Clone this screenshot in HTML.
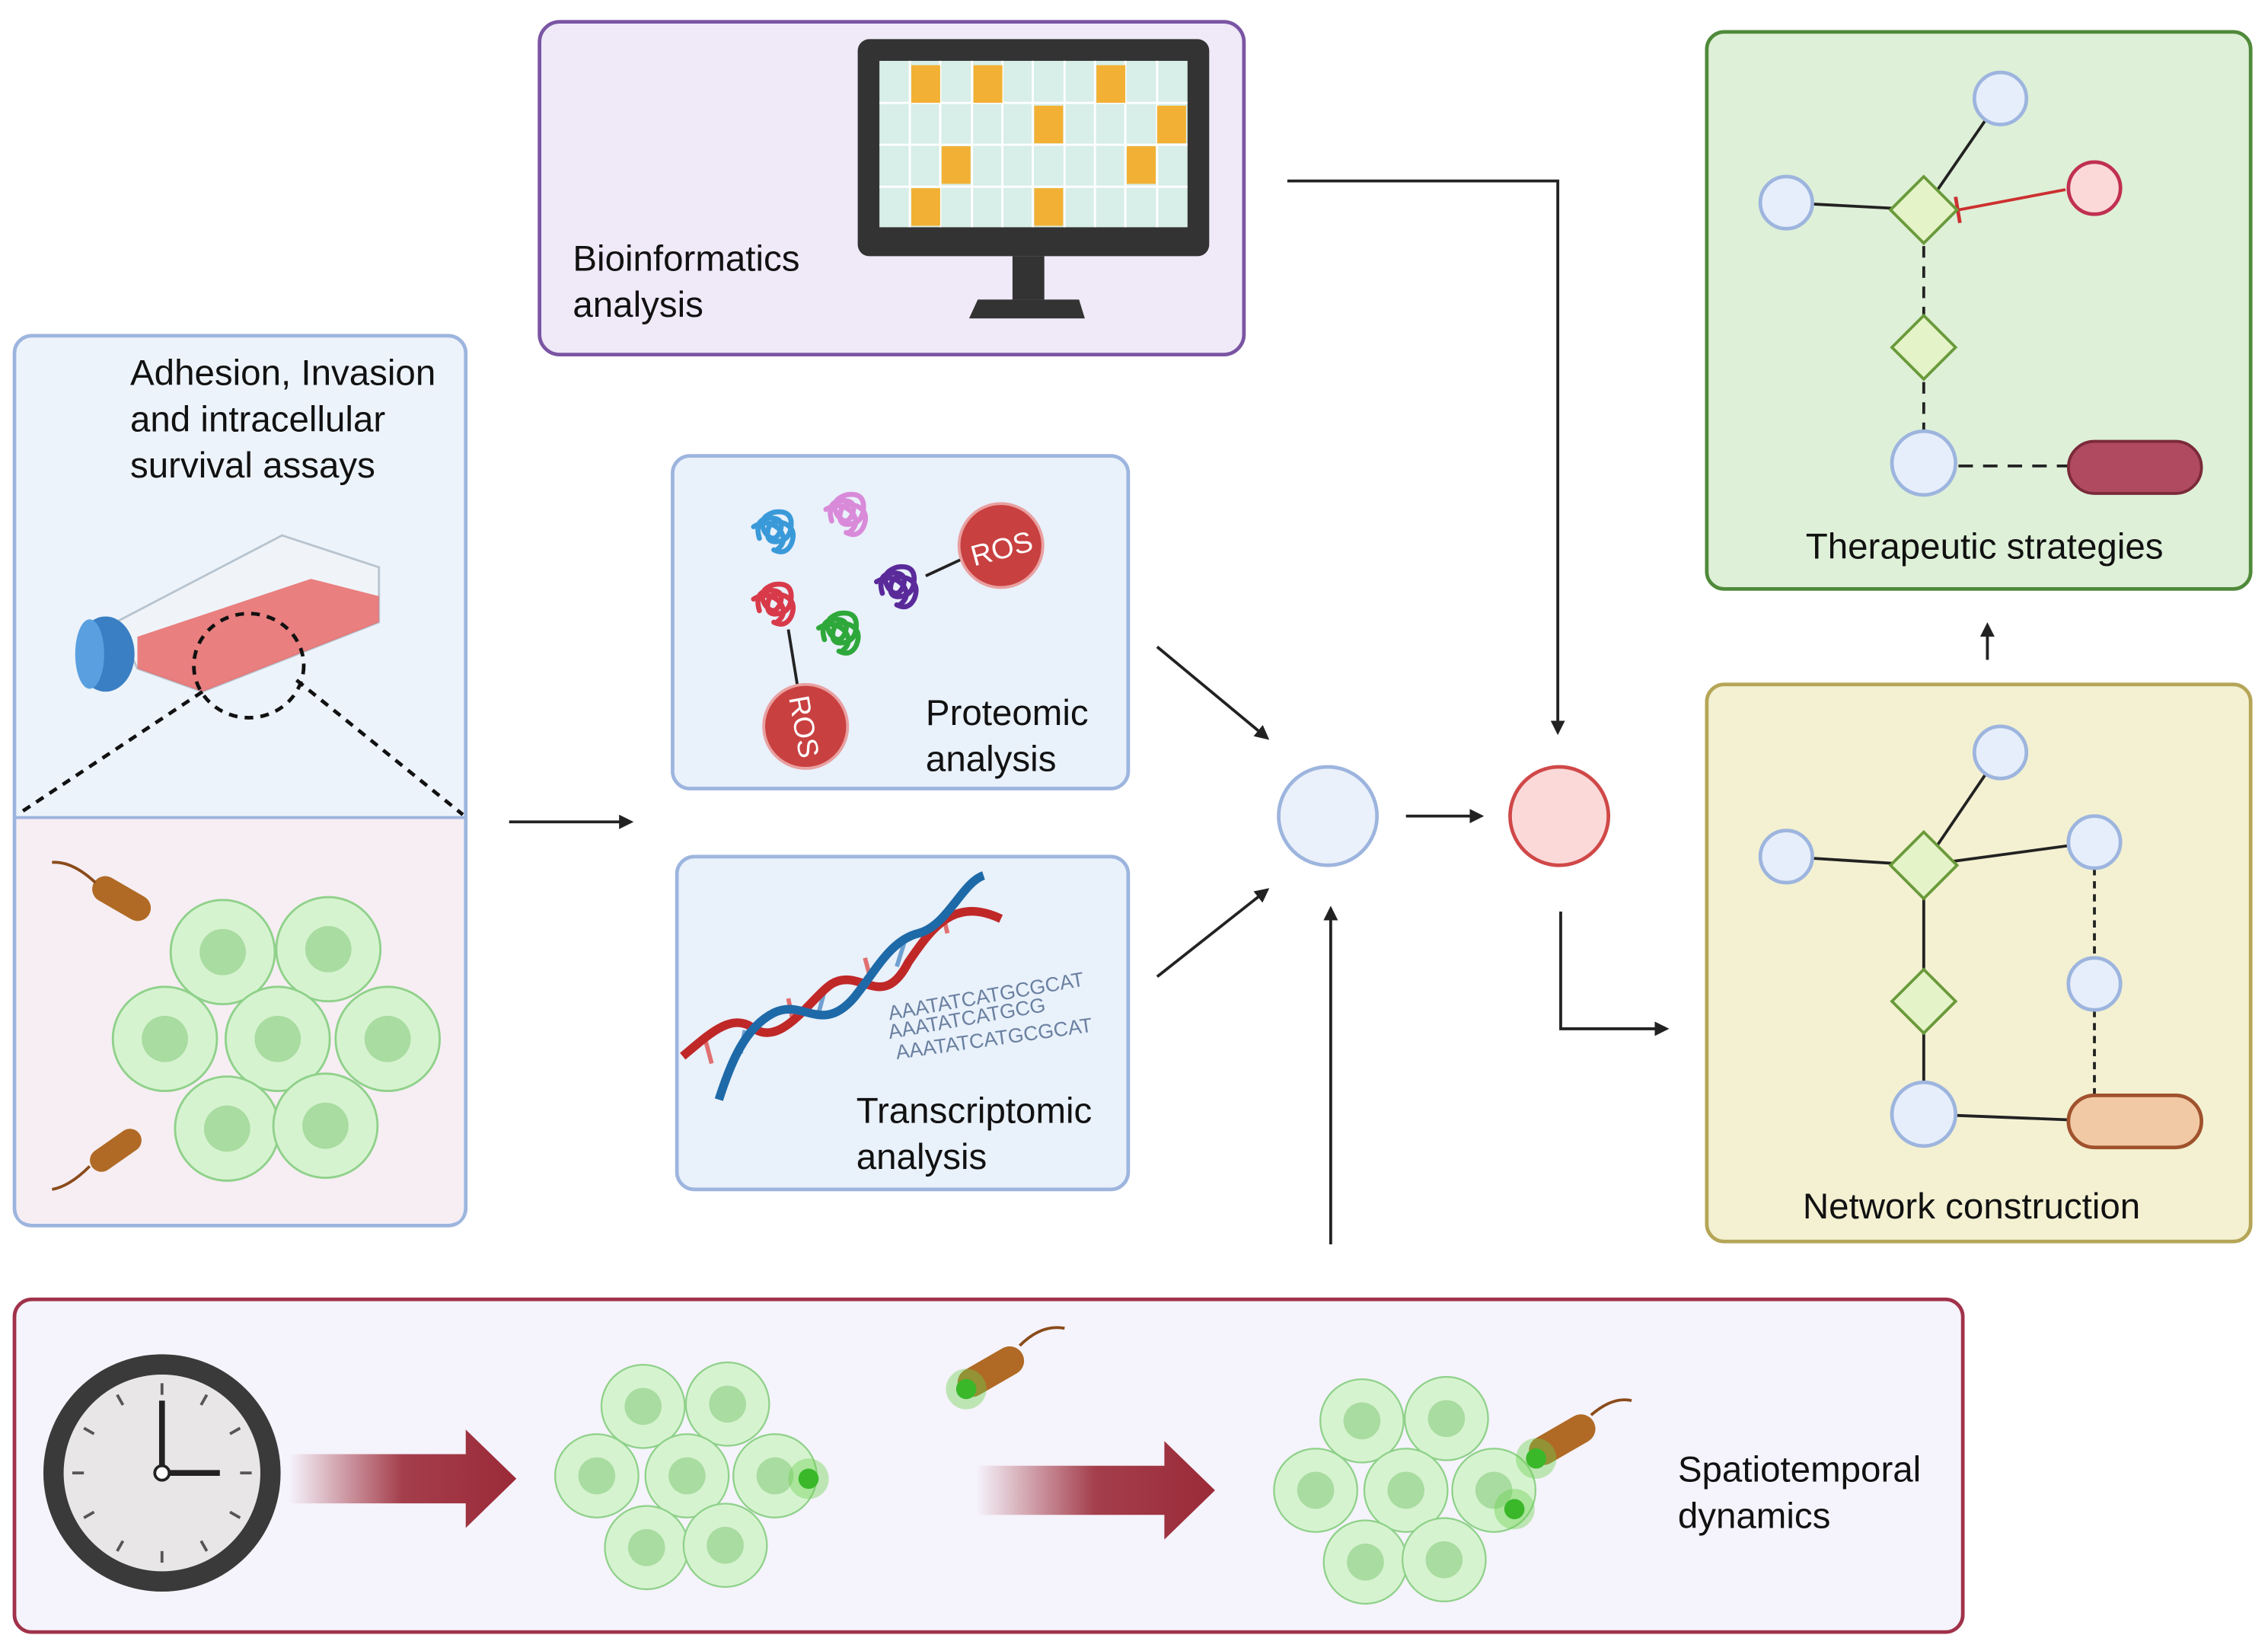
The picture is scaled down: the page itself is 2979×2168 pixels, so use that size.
<!DOCTYPE html>
<html><head><meta charset="utf-8"><style>
html,body{margin:0;padding:0;background:#fff}
svg{display:block}
text{font-family:"Liberation Sans",sans-serif;fill:#111}
</style></head><body>
<svg width="2979" height="2168" viewBox="0 0 1568 1141" xmlns="http://www.w3.org/2000/svg">
<defs>
<marker id="ah" markerWidth="10" markerHeight="10" refX="8" refY="5" orient="auto" markerUnits="userSpaceOnUse"><path d="M0,0 L10,5 L0,10 z" fill="#222"/></marker>
<linearGradient id="rg" x1="0" x2="1"><stop offset="0" stop-color="#9b2a38" stop-opacity="0"/><stop offset="0.5" stop-color="#9b2a38" stop-opacity="0.9"/><stop offset="1" stop-color="#9b2a38"/></linearGradient>
<g id="cell"><circle r="36" fill="#d6f3d0" stroke="#8fd18a" stroke-width="1.5"/><circle r="16" fill="#a9dca0"/></g>
<g id="cells">
<use href="#cell" x="-38" y="-60"/><use href="#cell" x="35" y="-62"/>
<use href="#cell" x="-78" y="0"/><use href="#cell" x="0" y="0"/><use href="#cell" x="76" y="0"/>
<use href="#cell" x="-35" y="62"/><use href="#cell" x="33" y="60"/>
</g>
<g id="prot" fill="none" stroke-width="3.5" stroke-linecap="round">
<path d="M0,10 q-4,-14 8,-14 q10,0 6,10 q-4,8 -10,0 q-6,-10 6,-14 q12,-2 12,8 q0,10 -8,12 q-10,2 -8,-8 q2,-8 12,-4 q8,4 4,14 q-4,8 -12,4"/>
<path d="M-4,2 q10,-6 18,2 q6,8 -2,14"/>
</g>
</defs>
<rect width="1568" height="1141" fill="#fff"/>

<!-- Bioinformatics -->
<rect x="373" y="15" width="487" height="230" rx="14" fill="#efe9f8" stroke="#7a55a3" stroke-width="2.5"/>
<text x="396" y="187" font-size="25">Bioinformatics</text>
<text x="396" y="219" font-size="25">analysis</text>
<rect x="593" y="27" width="243" height="150" rx="8" fill="#333"/>
<rect x="608" y="42" width="213" height="115" fill="#d8eee8"/>
<g stroke="#fff" stroke-width="1.5">
<line x1="608" y1="71" x2="821" y2="71"/><line x1="608" y1="100" x2="821" y2="100"/><line x1="608" y1="129" x2="821" y2="129"/>
<line x1="629" y1="42" x2="629" y2="157"/><line x1="650" y1="42" x2="650" y2="157"/><line x1="672" y1="42" x2="672" y2="157"/><line x1="693" y1="42" x2="693" y2="157"/><line x1="714" y1="42" x2="714" y2="157"/><line x1="736" y1="42" x2="736" y2="157"/><line x1="757" y1="42" x2="757" y2="157"/><line x1="778" y1="42" x2="778" y2="157"/><line x1="800" y1="42" x2="800" y2="157"/>
</g>
<g fill="#f2b134">
<rect x="630" y="45" width="20" height="26"/><rect x="673" y="45" width="20" height="26"/><rect x="758" y="45" width="20" height="26"/>
<rect x="715" y="73" width="20" height="26"/><rect x="800" y="73" width="20" height="26"/>
<rect x="651" y="101" width="20" height="26"/><rect x="779" y="101" width="20" height="26"/>
<rect x="630" y="130" width="20" height="26"/><rect x="715" y="130" width="20" height="26"/>
</g>
<rect x="700" y="177" width="22" height="30" fill="#333"/>
<path d="M676,207 L746,207 L750,220 L670,220 z" fill="#333"/>

<!-- Left assay box -->
<rect x="10" y="232" width="312" height="615" rx="12" fill="#edf3fb" stroke="#9db5de" stroke-width="2.5"/>
<path d="M11.5,565 L320.5,565 L320.5,835 Q320.5,845.5 310,845.5 L22,845.5 Q11.5,845.5 11.5,835 z" fill="#f6eef3"/>
<line x1="11" y1="565" x2="321" y2="565" stroke="#9db5de" stroke-width="2"/>
<text x="90" y="266" font-size="25">Adhesion, Invasion</text>
<text x="90" y="298" font-size="25">and intracellular</text>
<text x="90" y="330" font-size="25">survival assays</text>
<!-- flask -->
<path d="M80,430 L195,370 L262,392 L262,430 L140,478 L95,462 z" fill="#f0f4f8" stroke="#b8c4cf" stroke-width="1.5"/>
<path d="M95,440 L215,400 L262,412 L262,430 L140,478 L95,462 z" fill="#e86a6a" opacity="0.85"/>
<ellipse cx="73" cy="452" rx="20" ry="26" fill="#3a7fc4"/>
<ellipse cx="62" cy="452" rx="10" ry="24" fill="#5aa0e0"/>
<ellipse cx="172" cy="460" rx="38" ry="36" fill="none" stroke="#111" stroke-width="2.5" stroke-dasharray="6,5"/>
<line x1="140" y1="478" x2="12" y2="563" stroke="#111" stroke-width="2.5" stroke-dasharray="6,5"/>
<line x1="205" y1="470" x2="320" y2="563" stroke="#111" stroke-width="2.5" stroke-dasharray="6,5"/>
<use href="#cells" x="192" y="718"/>
<rect x="62" y="612" width="44" height="18" rx="9" fill="#b06a25" transform="rotate(30 84 621)"/>
<path d="M66,610 Q50,595 36,596" stroke="#8a4b1a" fill="none" stroke-width="2"/>
<rect x="60" y="787" width="40" height="16" rx="8" fill="#b06a25" transform="rotate(-35 80 795)"/>
<path d="M62,806 Q48,820 36,822" stroke="#8a4b1a" fill="none" stroke-width="2"/>

<!-- Proteomic -->
<rect x="465" y="315" width="315" height="230" rx="12" fill="#e9f1fb" stroke="#9db5de" stroke-width="2.5"/>
<text x="640" y="501" font-size="25">Proteomic</text>
<text x="640" y="533" font-size="25">analysis</text>
<use href="#prot" x="525" y="362" stroke="#3a9ad9"/>
<use href="#prot" x="575" y="350" stroke="#d98ad9"/>
<use href="#prot" x="525" y="412" stroke="#d83a4a"/>
<use href="#prot" x="570" y="432" stroke="#2ea83a"/>
<use href="#prot" x="610" y="400" stroke="#5a2a9a"/>
<line x1="640" y1="398" x2="668" y2="385" stroke="#222" stroke-width="2"/>
<line x1="545" y1="435" x2="552" y2="478" stroke="#222" stroke-width="2"/>
<circle cx="692" cy="377" r="29" fill="#c94040" stroke="#e9a0a0" stroke-width="2"/>
<text x="692" y="386" font-size="20" style="fill:#fff" text-anchor="middle" transform="rotate(-15 692 377)">ROS</text>
<circle cx="557" cy="502" r="29" fill="#c94040" stroke="#e9a0a0" stroke-width="2"/>
<text x="557" y="510" font-size="20" style="fill:#fff" text-anchor="middle" transform="rotate(80 557 502)">ROS</text>

<!-- Transcriptomic -->
<rect x="468" y="592" width="312" height="230" rx="12" fill="#e9f1fb" stroke="#9db5de" stroke-width="2.5"/>
<text x="592" y="776" font-size="25">Transcriptomic</text>
<text x="592" y="808" font-size="25">analysis</text>
<g stroke-width="3">
<line x1="488" y1="720" x2="492" y2="735" stroke="#e07070"/><line x1="515" y1="712" x2="512" y2="728" stroke="#70a0d0"/><line x1="545" y1="690" x2="548" y2="705" stroke="#e07070"/><line x1="570" y1="685" x2="566" y2="700" stroke="#70a0d0"/><line x1="598" y1="662" x2="602" y2="677" stroke="#e07070"/><line x1="625" y1="652" x2="620" y2="668" stroke="#70a0d0"/><line x1="652" y1="632" x2="655" y2="645" stroke="#e07070"/>
</g>
<g stroke-width="6" fill="none">
<path d="M472,730 C490,715 505,700 520,710 C540,725 560,690 575,680 C595,668 610,700 628,665 C645,640 660,620 692,635" stroke="#c02828"/>
<path d="M497,760 C505,735 515,710 535,700 C555,690 568,715 590,690 C605,672 615,650 635,645 C655,640 665,610 680,605" stroke="#1e6aa8"/>
</g>
<text x="615" y="705" font-size="14" style="fill:#6a80a0" transform="rotate(-10 615 705)">AAATATCATGCGCAT</text>
<text x="615" y="718" font-size="14" style="fill:#6a80a0" transform="rotate(-10 615 718)">AAATATCATGCG</text>
<text x="620" y="732" font-size="14" style="fill:#6a80a0" transform="rotate(-8 620 732)">AAATATCATGCGCAT</text>

<!-- central circles -->
<circle cx="918" cy="564" r="34" fill="#eaf1fb" stroke="#9db5de" stroke-width="2.5"/>
<circle cx="1078" cy="564" r="34" fill="#fbd9d9" stroke="#d04848" stroke-width="2.5"/>

<!-- arrows -->
<g stroke="#222" stroke-width="2" fill="none" marker-end="url(#ah)">
<line x1="352" y1="568" x2="436" y2="568"/>
<line x1="800" y1="447" x2="876" y2="510"/>
<line x1="800" y1="675" x2="876" y2="615"/>
<line x1="920" y1="860" x2="920" y2="628"/>
<line x1="972" y1="564" x2="1024" y2="564"/>
<path d="M890,125 L1077,125 L1077,506"/>
<path d="M1079,630 L1079,711 L1152,711"/>
<line x1="1374" y1="456" x2="1374" y2="432"/>
</g>

<!-- Therapeutic -->
<rect x="1180" y="22" width="376" height="385" rx="12" fill="#def0d8" stroke="#4f8a3a" stroke-width="2.5"/>
<text x="1372" y="386" font-size="25" text-anchor="middle">Therapeutic strategies</text>
<g stroke="#222" stroke-width="2">
<line x1="1383" y1="68" x2="1330" y2="145"/>
<line x1="1235" y1="140" x2="1330" y2="145"/>
<line x1="1330" y1="170" x2="1330" y2="218" stroke-dasharray="8,6"/>
<line x1="1330" y1="264" x2="1330" y2="298" stroke-dasharray="8,6"/>
<line x1="1354" y1="322" x2="1430" y2="322" stroke-dasharray="10,7"/>
</g>
<line x1="1354" y1="145" x2="1428" y2="131" stroke="#cc3030" stroke-width="2"/>
<line x1="1352" y1="136" x2="1355" y2="154" stroke="#cc3030" stroke-width="2.5"/>
<g fill="#e6eefb" stroke="#9db5de" stroke-width="2.5">
<circle cx="1383" cy="68" r="18"/><circle cx="1235" cy="140" r="18"/><circle cx="1330" cy="320" r="22"/>
</g>
<circle cx="1448" cy="130" r="18" fill="#fbd9d9" stroke="#c03050" stroke-width="2.5"/>
<g fill="#e4f3c8" stroke="#6a9a3a" stroke-width="2">
<path d="M1330,122 L1353,145 L1330,168 L1307,145 z"/><path d="M1330,218 L1352,240 L1330,262 L1308,240 z"/>
</g>
<rect x="1430" y="305" width="92" height="36" rx="18" fill="#b04a60" stroke="#7a2a3a" stroke-width="2"/>

<!-- Network -->
<rect x="1180" y="473" width="376" height="385" rx="12" fill="#f3f1d2" stroke="#b5a557" stroke-width="2.5"/>
<text x="1363" y="842" font-size="25" text-anchor="middle">Network construction</text>
<g stroke="#222" stroke-width="2">
<line x1="1383" y1="520" x2="1330" y2="598"/>
<line x1="1235" y1="592" x2="1330" y2="598"/>
<line x1="1330" y1="598" x2="1448" y2="582"/>
<line x1="1330" y1="598" x2="1330" y2="692"/>
<line x1="1330" y1="692" x2="1330" y2="770"/>
<line x1="1330" y1="770" x2="1432" y2="774"/>
<line x1="1448" y1="600" x2="1448" y2="662" stroke-dasharray="5,4"/>
<line x1="1448" y1="698" x2="1448" y2="757" stroke-dasharray="5,4"/>
</g>
<g fill="#e6eefb" stroke="#9db5de" stroke-width="2.5">
<circle cx="1383" cy="520" r="18"/><circle cx="1235" cy="592" r="18"/><circle cx="1448" cy="582" r="18"/><circle cx="1448" cy="680" r="18"/><circle cx="1330" cy="770" r="22"/>
</g>
<g fill="#e4f3c8" stroke="#6a9a3a" stroke-width="2">
<path d="M1330,575 L1353,598 L1330,621 L1307,598 z"/><path d="M1330,670 L1352,692 L1330,714 L1308,692 z"/>
</g>
<rect x="1430" y="757" width="92" height="36" rx="18" fill="#f2c9a5" stroke="#a0522d" stroke-width="2.5"/>

<!-- Bottom -->
<rect x="10" y="898" width="1347" height="230" rx="12" fill="#f5f3fb" stroke="#a0324a" stroke-width="2.5"/>
<text x="1160" y="1024" font-size="25">Spatiotemporal</text>
<text x="1160" y="1056" font-size="25">dynamics</text>
<circle cx="112" cy="1018" r="82" fill="#3a3a3a"/>
<circle cx="112" cy="1018" r="68" fill="#e8e6e6"/>
<g stroke="#555" stroke-width="2">
<line x1="112" y1="956" x2="112" y2="964"/><line x1="112" y1="1072" x2="112" y2="1080"/><line x1="50" y1="1018" x2="58" y2="1018"/><line x1="166" y1="1018" x2="174" y2="1018"/>
<line x1="143" y1="964" x2="139" y2="971"/><line x1="81" y1="964" x2="85" y2="971"/><line x1="143" y1="1072" x2="139" y2="1065"/><line x1="81" y1="1072" x2="85" y2="1065"/>
<line x1="58" y1="987" x2="65" y2="991"/><line x1="166" y1="987" x2="159" y2="991"/><line x1="58" y1="1049" x2="65" y2="1045"/><line x1="166" y1="1049" x2="159" y2="1045"/>
</g>
<line x1="112" y1="1018" x2="112" y2="968" stroke="#222" stroke-width="4"/>
<line x1="112" y1="1018" x2="152" y2="1018" stroke="#222" stroke-width="4"/>
<circle cx="112" cy="1018" r="5" fill="#fff" stroke="#222" stroke-width="2"/>
<path d="M200,1005 L322,1005 L322,988 L357,1022 L322,1056 L322,1039 L200,1039 z" fill="url(#rg)"/>
<path d="M675,1013 L805,1013 L805,996 L840,1030 L805,1064 L805,1047 L675,1047 z" fill="url(#rg)"/>
<g transform="translate(475,1020) scale(0.8)"><use href="#cells"/></g>
<circle cx="559" cy="1022" r="14" fill="#6ad04a" opacity="0.4"/><circle cx="559" cy="1022" r="7" fill="#3ab82a"/>
<g transform="translate(972,1030) scale(0.8)"><use href="#cells"/></g>
<rect x="660" y="938" width="50" height="20" rx="10" fill="#b06a25" transform="rotate(-30 685 948)"/>
<circle cx="668" cy="960" r="14" fill="#6ad04a" opacity="0.4"/><circle cx="668" cy="960" r="7" fill="#3ab82a"/>
<path d="M705,930 Q720,915 736,918" stroke="#8a4b1a" fill="none" stroke-width="2"/>
<rect x="1055" y="985" width="50" height="20" rx="10" fill="#b06a25" transform="rotate(-30 1080 995)"/>
<path d="M1100,978 Q1115,965 1128,968" stroke="#8a4b1a" fill="none" stroke-width="2"/>
<circle cx="1062" cy="1008" r="14" fill="#6ad04a" opacity="0.4"/><circle cx="1062" cy="1008" r="7" fill="#3ab82a"/>
<circle cx="1047" cy="1043" r="14" fill="#6ad04a" opacity="0.4"/><circle cx="1047" cy="1043" r="7" fill="#3ab82a"/>
</svg>
</body></html>
